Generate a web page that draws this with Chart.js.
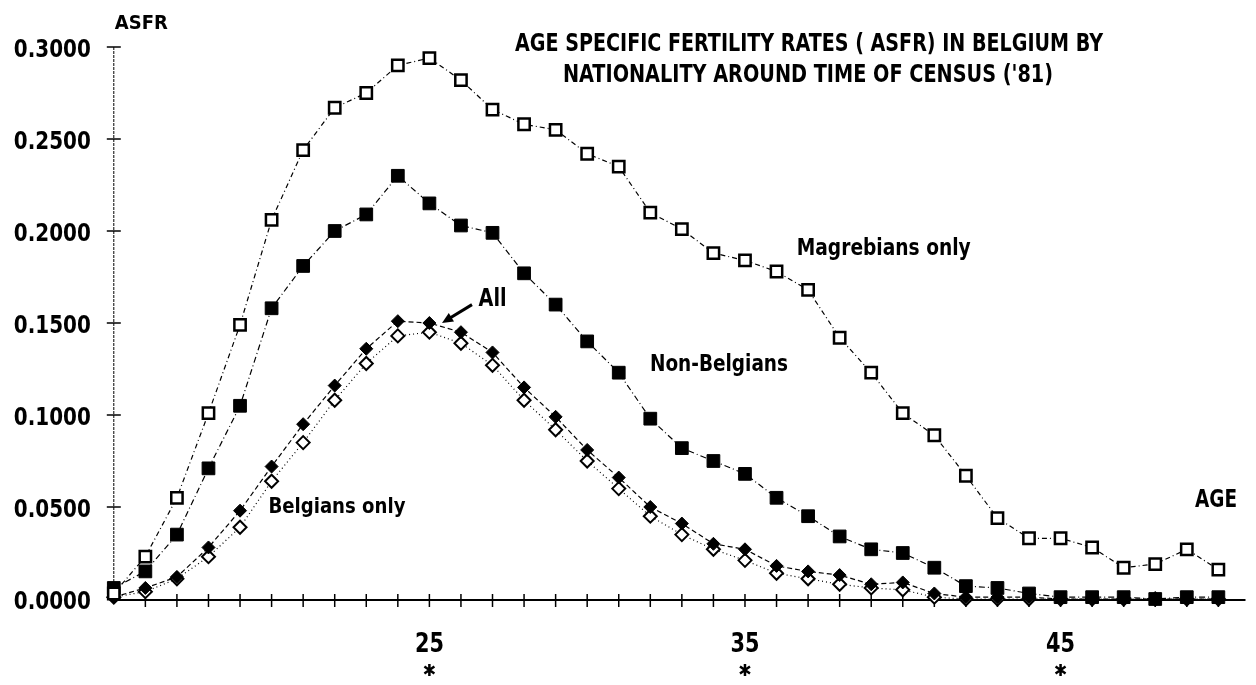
<!DOCTYPE html>
<html>
<head>
<meta charset="utf-8">
<script src="https://cdn.jsdelivr.net/npm/chart.js@4.4.1/dist/chart.umd.min.js"></script>
<style>
html, body { margin: 0; padding: 0; background: #ffffff; }
#wrap { width: 1256px; height: 685px; position: relative; }
</style>
</head>
<body>
<div id="wrap"><canvas id="asfr_Chart"></canvas></div>
<script>
// 年齡 15-50
const ages = [15, 16, 17, 18, 19, 20, 21, 22, 23, 24, 25, 26, 27, 28, 29, 30, 31, 32,
              33, 34, 35, 36, 37, 38, 39, 40, 41, 42, 43, 44, 45, 46, 47, 48, 49, 50];

const magrebians = [0.003, 0.023, 0.055, 0.101, 0.149, 0.206, 0.244, 0.267, 0.275, 0.290, 0.294, 0.282,
                    0.266, 0.258, 0.255, 0.242, 0.235, 0.210, 0.201, 0.188, 0.184, 0.178, 0.168, 0.142,
                    0.123, 0.101, 0.089, 0.067, 0.044, 0.033, 0.033, 0.028, 0.017, 0.019, 0.027, 0.016];

const nonBelgians = [0.006, 0.015, 0.035, 0.071, 0.105, 0.158, 0.181, 0.200, 0.209, 0.230, 0.215, 0.203,
                     0.199, 0.177, 0.160, 0.140, 0.123, 0.098, 0.082, 0.075, 0.068, 0.055, 0.045, 0.034,
                     0.027, 0.025, 0.017, 0.007, 0.006, 0.003, 0.001, 0.001, 0.001, 0.000, 0.001, 0.001];

const allNat = [0.001, 0.006, 0.012, 0.028, 0.048, 0.072, 0.095, 0.116, 0.136, 0.151, 0.150, 0.145,
                0.134, 0.115, 0.099, 0.081, 0.066, 0.050, 0.041, 0.030, 0.027, 0.018, 0.015, 0.013,
                0.008, 0.009, 0.003, 0.001, 0.001, 0.001, 0.000, 0.000, 0.000, 0.000, 0.000, 0.000];

const belgians = [0.001, 0.004, 0.011, 0.023, 0.039, 0.064, 0.085, 0.108, 0.128, 0.143, 0.145, 0.139,
                  0.127, 0.108, 0.092, 0.075, 0.060, 0.045, 0.035, 0.027, 0.021, 0.014, 0.011, 0.008,
                  0.006, 0.005, 0.001, 0.000, 0.000, 0.000, 0.000, 0.000, 0.000, 0.000, 0.000, 0.000];

const yTicks = [0, 0.05, 0.10, 0.15, 0.20, 0.25, 0.30];
const xTickAges = ages.slice(1);
const xLabelAges = [25, 35, 45];

const titleLines = ['AGE SPECIFIC FERTILITY RATES ( ASFR) IN BELGIUM BY', "NATIONALITY AROUND TIME OF CENSUS ('81)"];

const FONT = '"Liberation Sans Narrow", "DejaVu Sans Condensed", "Liberation Sans", sans-serif';

// 文字水平縮放到指定寬度
function fitText(ctx, txt, x, y, w, size, align) {
    ctx.save();
    ctx.font = 'bold ' + size + 'px ' + FONT;
    const nat = ctx.measureText(txt).width;
    let left = x;
    if (align === 'right') left = x - w;
    else if (align === 'center') left = x - w / 2;
    ctx.translate(left, y);
    ctx.scale(w / nat, 1);
    ctx.textAlign = 'left';
    ctx.textBaseline = 'alphabetic';
    ctx.fillStyle = '#000000';
    ctx.fillText(txt, 0, 0);
    ctx.restore();
}

function toXY(data) {
    return ages.map((a, i) => ({x: a, y: data[i]}));
}

const axesPlugin = {
    id: 'axesPlugin',
    beforeDatasetsDraw(chart) {
        const ctx = chart.ctx;
        const xs = chart.scales.x, ys = chart.scales.y;
        const left = chart.chartArea.left, right = chart.chartArea.right;
        const y0 = ys.getPixelForValue(0);
        ctx.save();
        ctx.strokeStyle = '#000000';
        // y 軸
        ctx.lineWidth = 1;
        ctx.setLineDash([3, 1]);
        ctx.beginPath();
        ctx.moveTo(left, ys.getPixelForValue(0.3));
        ctx.lineTo(left, y0);
        ctx.stroke();
        ctx.setLineDash([]);
        ctx.lineWidth = 1.5;
        yTicks.forEach(v => {
            if (v === 0) return;
            const py = ys.getPixelForValue(v);
            ctx.beginPath();
            ctx.moveTo(left - 7, py);
            ctx.lineTo(left + 7, py);
            ctx.stroke();
        });
        // x 軸
        ctx.lineWidth = 2;
        ctx.beginPath();
        ctx.moveTo(left, y0 + 1);
        ctx.lineTo(right, y0 + 1);
        ctx.stroke();
        ctx.lineWidth = 1.5;
        xTickAges.forEach(a => {
            const px = xs.getPixelForValue(a);
            ctx.beginPath();
            ctx.moveTo(px, y0 - 5);
            ctx.lineTo(px, y0 + 8);
            ctx.stroke();
        });
        ctx.restore();
    },
    afterDraw(chart) {
        const ctx = chart.ctx;
        const xs = chart.scales.x, ys = chart.scales.y;
        const left = chart.chartArea.left;
        const y0 = ys.getPixelForValue(0);

        // y 刻度
        yTicks.forEach(v => {
            fitText(ctx, v.toFixed(4), left - 23, ys.getPixelForValue(v) + 9.5, 77, 25, 'right');
        });
        // x 刻度 + 星號
        xLabelAges.forEach(a => {
            const px = xs.getPixelForValue(a);
            fitText(ctx, String(a), px, y0 + 53, 29, 27, 'center');
            const cy = y0 + 71;
            ctx.save();
            ctx.strokeStyle = '#000000';
            ctx.lineWidth = 2.5;
            ctx.beginPath();
            ctx.moveTo(px, cy - 6); ctx.lineTo(px, cy + 6);
            ctx.moveTo(px - 5, cy - 3.5); ctx.lineTo(px + 5, cy + 3.5);
            ctx.moveTo(px - 5, cy + 3.5); ctx.lineTo(px + 5, cy - 3.5);
            ctx.stroke();
            ctx.restore();
        });

        // 標題
        fitText(ctx, titleLines[0], 809, 51, 588, 25, 'center');
        fitText(ctx, titleLines[1], 808, 82, 490, 25, 'center');
        fitText(ctx, 'ASFR', left + 1, ys.getPixelForValue(0.3) - 18, 53, 20, 'left');

        // 系列標籤
        fitText(ctx, 'Magrebians only', xs.getPixelForValue(36.64), ys.getPixelForValue(0.187), 174, 23, 'left');
        fitText(ctx, 'Non-Belgians', xs.getPixelForValue(31.99), ys.getPixelForValue(0.124), 138, 23, 'left');
        fitText(ctx, 'Belgians only', xs.getPixelForValue(19.90), ys.getPixelForValue(0.0466), 137, 22, 'left');
        fitText(ctx, 'All', xs.getPixelForValue(26.56), ys.getPixelForValue(0.159), 28, 24, 'left');
        fitText(ctx, 'AGE', xs.getPixelForValue(49.26), ys.getPixelForValue(0.050), 42, 25, 'left');

        // All 的箭頭
        const tx = xs.getPixelForValue(26.35), ty = ys.getPixelForValue(0.160);
        const hx = xs.getPixelForValue(25.40), hy = ys.getPixelForValue(0.150);
        const ang = Math.atan2(hy - ty, hx - tx);
        ctx.save();
        ctx.strokeStyle = '#000000';
        ctx.fillStyle = '#000000';
        ctx.lineWidth = 3;
        ctx.beginPath();
        ctx.moveTo(tx, ty);
        ctx.lineTo(hx - 7 * Math.cos(ang), hy - 7 * Math.sin(ang));
        ctx.stroke();
        ctx.beginPath();
        ctx.moveTo(hx, hy);
        ctx.lineTo(hx - 11 * Math.cos(ang) + 5 * Math.sin(ang), hy - 11 * Math.sin(ang) - 5 * Math.cos(ang));
        ctx.lineTo(hx - 11 * Math.cos(ang) - 5 * Math.sin(ang), hy - 11 * Math.sin(ang) + 5 * Math.cos(ang));
        ctx.closePath();
        ctx.fill();
        ctx.restore();
    }
};

const ctx = document.getElementById('asfr_Chart').getContext('2d');

const LineChart = new Chart(ctx, {
    type: 'line',
    data: {
        datasets: [{
            label: 'Magrebians only',
            data: toXY(magrebians),
            order: 0,
            borderColor: '#000000',
            borderWidth: 1.2,
            borderDash: [5, 3, 1, 3],
            pointStyle: 'rect',
            pointRadius: 8,
            pointBorderWidth: 2.5,
            pointBackgroundColor: '#ffffff',
            pointBorderColor: '#000000',
            clip: false
        }, {
            label: 'Non-Belgians',
            data: toXY(nonBelgians),
            order: 1,
            borderColor: '#000000',
            borderWidth: 1.2,
            borderDash: [6, 3, 1, 3],
            pointStyle: 'rect',
            pointRadius: 9,
            pointBorderWidth: 1,
            pointBackgroundColor: '#000000',
            pointBorderColor: '#000000',
            clip: false
        }, {
            label: 'All',
            data: toXY(allNat),
            order: 2,
            borderColor: '#000000',
            borderWidth: 1.2,
            borderDash: [5, 3],
            pointStyle: 'rectRot',
            pointRadius: 6.5,
            pointBorderWidth: 1,
            pointBackgroundColor: '#000000',
            pointBorderColor: '#000000',
            clip: false
        }, {
            label: 'Belgians only',
            data: toXY(belgians),
            order: 3,
            borderColor: '#000000',
            borderWidth: 1.2,
            borderDash: [1, 3],
            pointStyle: 'rectRot',
            pointRadius: 6.5,
            pointBorderWidth: 2,
            pointBackgroundColor: '#ffffff',
            pointBorderColor: '#000000',
            clip: false
        }]
    },
    options: {
        responsive: true,
        maintainAspectRatio: false,
        animation: false,
        tension: 0,
        layout: {
            padding: {left: 113.8, top: 47, right: 0, bottom: 86}
        },
        scales: {
            x: {type: 'linear', min: 15, max: 50.86, display: false},
            y: {min: 0, max: 0.3, display: false}
        },
        plugins: {
            legend: {display: false},
            tooltip: {enabled: false}
        }
    },
    plugins: [axesPlugin]
});
</script>
</body>
</html>
